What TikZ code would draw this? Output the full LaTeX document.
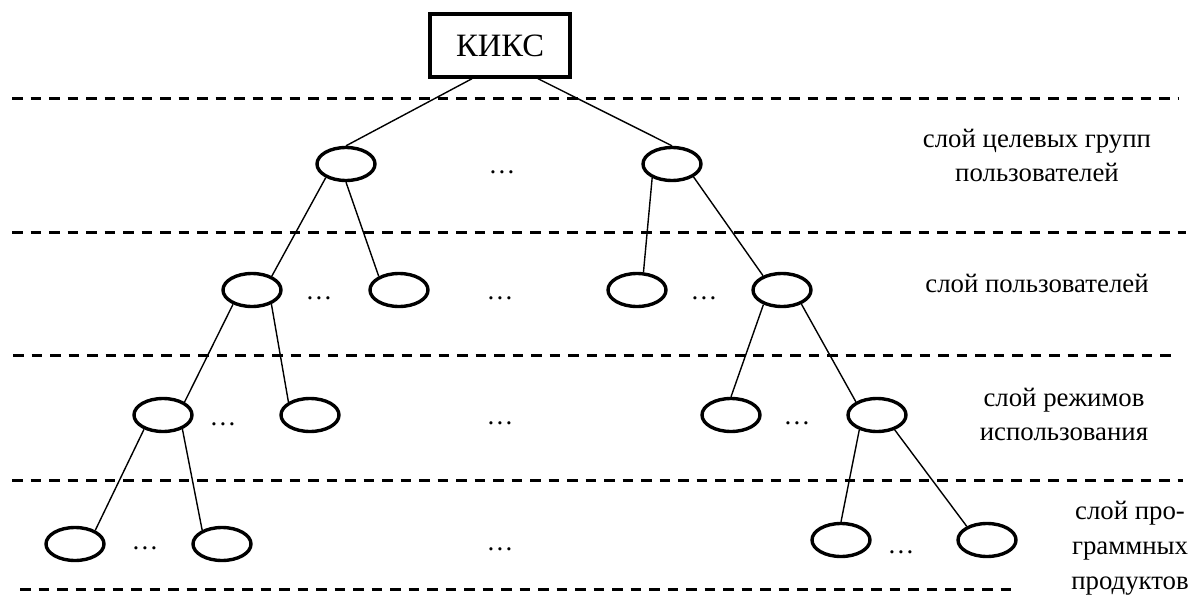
\documentclass[tikz,border=0pt]{standalone}
\usepackage{fontspec}
\setmainfont{Liberation Serif}
\usepackage{tikz}
\usetikzlibrary{shapes.geometric, calc}

\begin{document}
\begin{tikzpicture}[x=0.5pt, y=-0.5pt,
    leaf/.style={draw, ellipse, line width=1.7pt, inner sep=0pt, minimum width=29pt, minimum height=16.5pt},
    layer/.style={line width=1.5pt, dash pattern=on 5.25pt off 4pt},
    link/.style={line width=0.7pt},
    dots/.style={inner sep=0pt, font=\fontsize{13.4}{17}\selectfont},
    caption/.style={inner sep=0pt, align=center, font=\fontsize{13.4}{17}\selectfont}]
\useasboundingbox (0,0) rectangle (1194,599);

% Root block
\node[draw, rectangle, line width=1.7pt, minimum width=70pt, minimum height=31.5pt, font=\fontsize{16.3}{19}\selectfont] (kiks) at (500,45.5) {КИКС};

% Layer borders
\draw[layer] (12,99) -- (1178,99);
\draw[layer] (12,232) -- (1186,232);
\draw[layer] (13,355) -- (1176,355);
\draw[layer] (12,480) -- (1183,480);
\draw[layer] (20,589) -- (1018,589);

% Target groups
\node[leaf] (grp1) at (346,164) {};
\node[leaf] (grp2) at (672,164) {};
\node[dots] (gdots) at (502,172) {…};

% Users
\node[leaf] (usr1) at (252,290) {};
\node[leaf] (usr2) at (399,290) {};
\node[leaf] (usr3) at (637,290) {};
\node[leaf] (usr4) at (782,290) {};
\node[dots] (udots1) at (319,298) {…};
\node[dots] (udots2) at (500,298) {…};
\node[dots] (udots3) at (704,298) {…};

% Usage modes
\node[leaf] (mode1) at (163,415) {};
\node[leaf] (mode2) at (310,415) {};
\node[leaf] (mode3) at (731,415) {};
\node[leaf] (mode4) at (877,415) {};
\node[dots] (mdots1) at (223,424) {…};
\node[dots] (mdots2) at (500,423) {…};
\node[dots] (mdots3) at (797,423) {…};

% Software products
\node[leaf] (prog1) at (75,544) {};
\node[leaf] (prog2) at (222,544) {};
\node[leaf] (prog3) at (841,540) {};
\node[leaf] (prog4) at (987,540) {};
\node[dots] (pdots1) at (145,548) {…};
\node[dots] (pdots2) at (500,549) {…};
\node[dots] (pdots3) at (901,552) {…};

% Tree edges
\draw[link] ($(kiks.south)+(-28,0)$) -- (grp1.north);
\draw[link] ($(kiks.south)+(38,0)$) -- (grp2.north);
\draw[link] (grp1.214) -- (usr1.35);
\draw[link] (grp1.south) -- (usr2.146);
\draw[link] (grp2.215) -- (usr3.70);
\draw[link] (grp2.-31) -- (usr4.143);
\draw[link] (usr1.217) -- (mode1.31);
\draw[link] (usr1.-36) -- (mode2.149);
\draw[link] (usr4.218) -- (mode3.north);
\draw[link] (usr4.-36) -- (mode4.148);
\draw[link] (mode1.217) -- (prog1.34);
\draw[link] (mode1.-36) -- (prog2.145);
\draw[link] (mode4.220) -- (prog3.north);
\draw[link] (mode4.-40) -- (prog4.146);

% Layer captions
\node[caption] (cap1) at (1037,155) {слой целевых групп\\пользователей};
\node[caption] (cap2) at (1037,283) {слой пользователей};
\node[caption] (cap3) at (1064,414) {слой режимов\\использования};
\node[caption, font=\fontsize{13.4}{17.5}\selectfont] (cap4) at (1130,548) {слой про-\\граммных\\продуктов};
\end{tikzpicture}
\end{document}
